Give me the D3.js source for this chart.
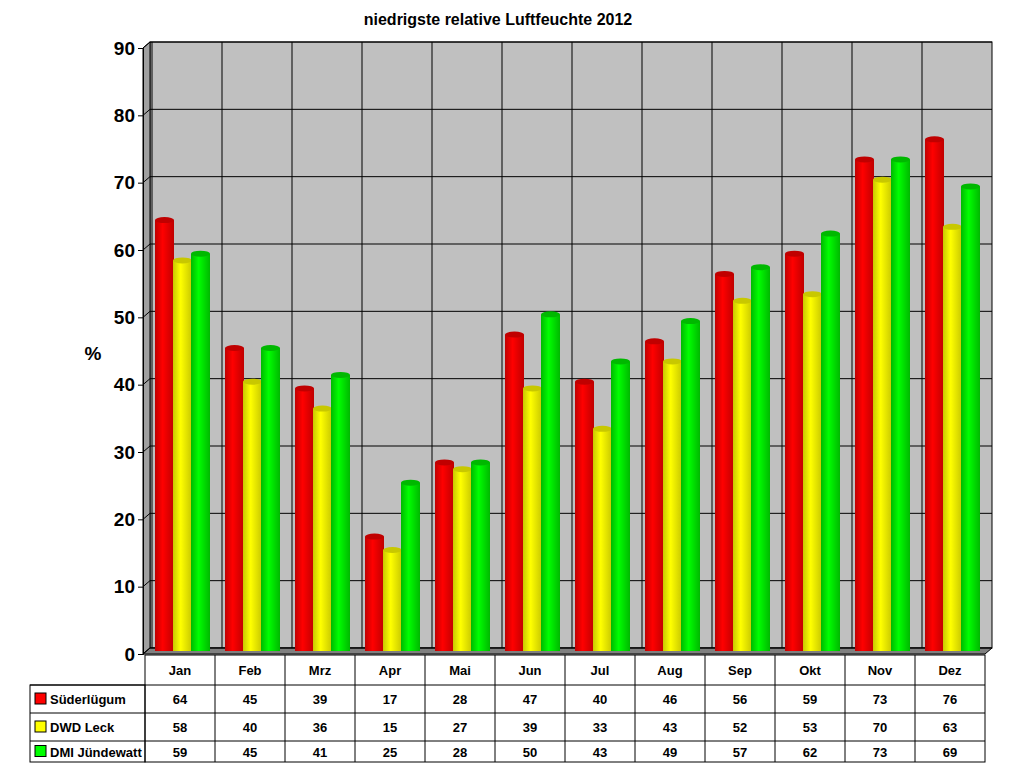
<!DOCTYPE html>
<html><head><meta charset="utf-8">
<script src="https://cdn.jsdelivr.net/npm/d3@7"></script>
<style>body{margin:0;background:#fff}text{font-family:Arial,"Liberation Sans",sans-serif}</style>
</head><body>
<script>
var months = ["Jan","Feb","Mrz","Apr","Mai","Jun","Jul","Aug","Sep","Okt","Nov","Dez"];
var suederluegum = [64,45,39,17,28,47,40,46,56,59,73,76];
var dwdLeck = [58,40,36,15,27,39,33,43,52,53,70,63];
var dmiJuendewatt = [59,45,41,25,28,50,43,49,57,62,73,69];
var seriesNames = ["Süderlügum","DWD Leck","DMI Jündewatt"];
var seriesColors = [["#ff0000","#c00000"],["#ffff00","#c8c800"],["#00ff00","#00b800"]];
var yTicks = [0,10,20,30,40,50,60,70,80,90];
var series = [suederluegum, dwdLeck, dmiJuendewatt];

var W = 1024, H = 768, dx = 7, dy = -6;
var svg = d3.select("body").append("svg").attr("width", W).attr("height", H);
var defs = svg.append("defs");
seriesColors.forEach(function(c, i) {
  var g = defs.append("linearGradient").attr("id", "g" + i);
  g.append("stop").attr("offset", "0%").attr("stop-color", c[1]);
  g.append("stop").attr("offset", "40%").attr("stop-color", c[0]);
  g.append("stop").attr("offset", "100%").attr("stop-color", c[1]);
});

var x = d3.scaleBand().domain(months).range([145, 985]);
var y = d3.scaleLinear().domain([0, 90]).range([654, 48]);

// back wall
svg.append("rect").attr("x", 143 + dx).attr("y", y(90) + dy).attr("width", 985 - 143)
  .attr("height", y(0) - y(90)).attr("fill", "#c0c0c0").attr("stroke", "#000");
// left side wall and floor
svg.append("polygon").attr("points", [[143, y(0)], [143 + dx, y(0) + dy], [143 + dx, y(90) + dy], [143, y(90)]].join(" "))
  .attr("fill", "#a0a0a0").attr("stroke", "#000");
svg.append("polygon").attr("points", [[143, y(0)], [143 + dx, y(0) + dy], [985 + dx, y(0) + dy], [985, y(0)]].join(" "))
  .attr("fill", "#808080").attr("stroke", "#000");

yTicks.forEach(function(t) {
  svg.append("line").attr("x1", 143).attr("x2", 143 + dx).attr("y1", y(t)).attr("y2", y(t) + dy).attr("stroke", "#000");
  svg.append("line").attr("x1", 143 + dx).attr("x2", 985 + dx).attr("y1", y(t) + dy).attr("y2", y(t) + dy).attr("stroke", "#000");
});
months.forEach(function(m) {
  svg.append("line").attr("x1", x(m) + dx).attr("x2", x(m) + dx).attr("y1", y(90) + dy).attr("y2", y(0) + dy).attr("stroke", "#000");
});

// y axis
var yAxis = svg.append("g").attr("transform", "translate(143,0)")
  .call(d3.axisLeft(y).tickValues(yTicks).tickSize(5));
yAxis.select(".domain").attr("stroke", "#000");
yAxis.selectAll("text").attr("font-size", 19).attr("font-weight", "bold").attr("fill", "#000");
svg.append("text").attr("x", 93).attr("y", 360).attr("text-anchor", "middle")
  .attr("font-size", 19).attr("font-weight", "bold").text("%");

// bars
var bw = 19, offs = [11, 29, 47];
series.forEach(function(vals, si) {
  months.forEach(function(m, i) {
    var bx = x(m) + offs[si] - 1, top = y(vals[i]) - 3, bot = y(0) - 3;
    svg.append("rect").attr("x", bx).attr("y", top).attr("width", bw).attr("height", bot - top)
      .attr("fill", "url(#g" + si + ")");
    svg.append("ellipse").attr("cx", bx + bw / 2).attr("cy", top).attr("rx", bw / 2).attr("ry", 3)
      .attr("fill", seriesColors[si][1]);
  });
});

// title
svg.append("text").attr("x", 498).attr("y", 25).attr("text-anchor", "middle")
  .attr("font-size", 16).attr("font-weight", "bold").text("niedrigste relative Luftfeuchte 2012");

// data table
var rowsY = [655, 685, 713, 741, 762];
var tbl = svg.append("g").attr("stroke", "#000").attr("fill", "none");
tbl.append("rect").attr("x", 145).attr("y", 655).attr("width", 840).attr("height", 107);
tbl.append("rect").attr("x", 30).attr("y", 685).attr("width", 115).attr("height", 77);
rowsY.slice(1, 4).forEach(function(ry) {
  tbl.append("line").attr("x1", 30).attr("x2", 985).attr("y1", ry).attr("y2", ry);
});
months.forEach(function(m, i) {
  if (i > 0) tbl.append("line").attr("x1", x(m)).attr("x2", x(m)).attr("y1", 655).attr("y2", 762);
  svg.append("text").attr("x", x(m) + x.bandwidth() / 2).attr("y", 675).attr("text-anchor", "middle")
    .attr("font-size", 13).attr("font-weight", "bold").text(m);
});
series.forEach(function(vals, si) {
  var cy = (rowsY[si + 1] + rowsY[si + 2]) / 2;
  svg.append("rect").attr("x", 35).attr("y", cy - 6).attr("width", 11).attr("height", 11)
    .attr("fill", seriesColors[si][0]).attr("stroke", "#000");
  svg.append("text").attr("x", 50).attr("y", cy + 5).attr("font-size", 13).attr("font-weight", "bold").text(seriesNames[si]);
  vals.forEach(function(v, i) {
    svg.append("text").attr("x", x(months[i]) + x.bandwidth() / 2).attr("y", cy + 5).attr("text-anchor", "middle")
      .attr("font-size", 13).attr("font-weight", "bold").text(v);
  });
});
</script>
</body></html>
